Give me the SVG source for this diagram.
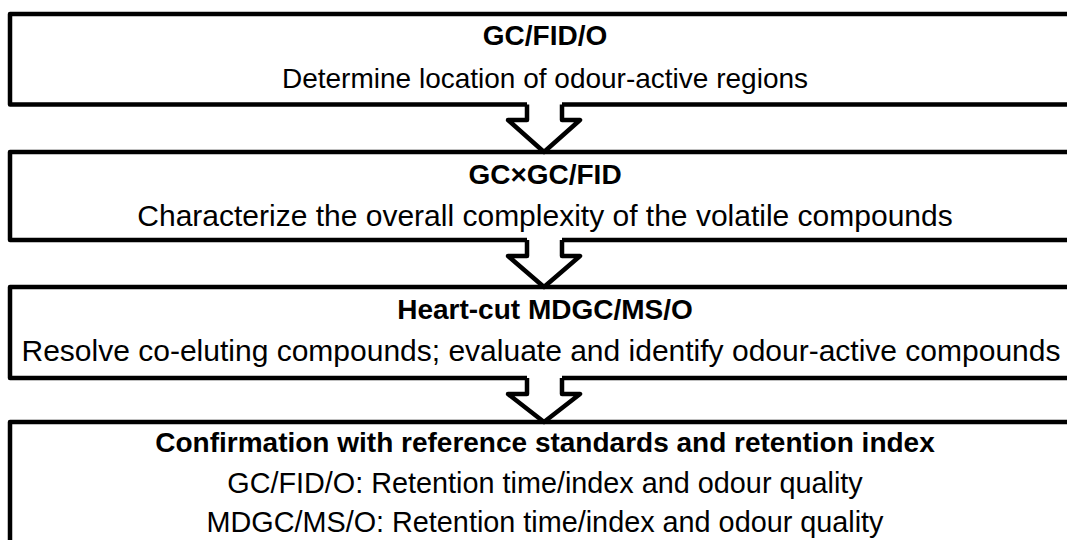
<svg xmlns="http://www.w3.org/2000/svg" width="1067" height="540" viewBox="0 0 1067 540">
<style>
.box{fill:#fff;stroke:#000;stroke-width:4.5;stroke-linejoin:round}
.t{font-family:"Liberation Sans",Arial,Helvetica,sans-serif;font-size:28px;text-anchor:middle;fill:#000}
.b{font-weight:bold}
.s30{font-size:30px}
.s29{font-size:28.8px}
.af{fill:#fff;stroke:none}
.as{fill:none;stroke:#000;stroke-width:4.5;stroke-linejoin:round;stroke-linecap:butt}
</style>
<rect width="1067" height="540" fill="#fff"/>
<g id="node1">
<rect class="box" x="10" y="14" width="1080" height="90.5"/>
<text class="t b" x="545" y="45">GC/FID/O</text>
<text class="t" x="545" y="88">Determine location of odour-active regions</text>
</g>
<g id="node2">
<rect class="box" x="10" y="152" width="1080" height="88"/>
<text class="t b" x="545" y="184">GC×GC/FID</text>
<text class="t s30" x="545" y="226">Characterize the overall complexity of the volatile compounds</text>
</g>
<g id="node3">
<rect class="box" x="10" y="287" width="1080" height="91"/>
<text class="t b" x="545" y="319">Heart-cut MDGC/MS/O</text>
<text class="t s30" x="541" y="361">Resolve co-eluting compounds; evaluate and identify odour-active compounds</text>
</g>
<g id="node4">
<rect class="box" x="10" y="422" width="1080" height="140"/>
<text class="t b" x="545" y="452">Confirmation with reference standards and retention index</text>
<text class="t s29" x="545" y="493">GC/FID/O: Retention time/index and odour quality</text>
<text class="t s29" x="545" y="532">MDGC/MS/O: Retention time/index and odour quality</text>
</g>
<g id="connectors">
<path class="af" d="M527,101 V120 H508 L544,152 L580,120 H562 V101 Z"/>
<path class="as" d="M527,104.5 V120 H508 L544,152 L580,120 H562 V104.5"/>
<path class="af" d="M527,237 V256 H508 L544,287 L580,256 H562 V237 Z"/>
<path class="as" d="M527,240 V256 H508 L544,287 L580,256 H562 V240"/>
<path class="af" d="M527,375 V394 H508 L544,422 L580,394 H562 V375 Z"/>
<path class="as" d="M527,378 V394 H508 L544,422 L580,394 H562 V378"/>
</g>
</svg>
